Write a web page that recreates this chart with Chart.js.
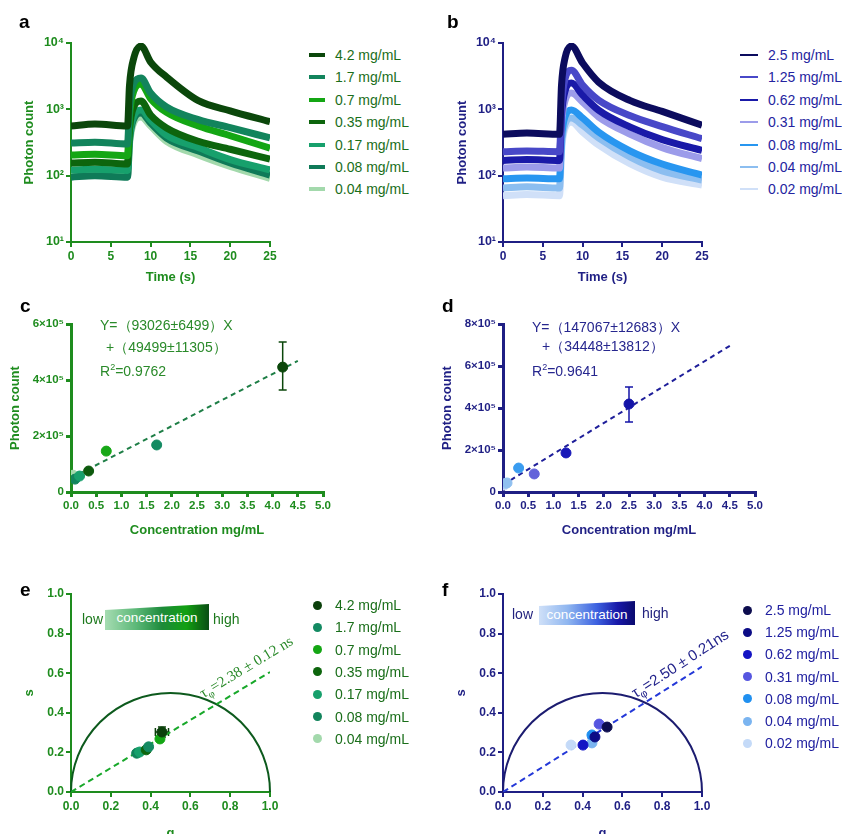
<!DOCTYPE html>
<html>
<head>
<meta charset="utf-8">
<script src="https://cdn.jsdelivr.net/npm/chart.js@4.4.1/dist/chart.umd.min.js"></script>
<style>
  body { margin: 0; background: #fff; width: 842px; height: 834px; overflow: hidden; position: relative;
         font-family: "Liberation Sans", Arial, sans-serif; }
  canvas { position: absolute; }
  .txt { position: absolute; white-space: nowrap; line-height: 16px; }
  .letter { position: absolute; font-weight: bold; font-size: 19px; color: #000; line-height: 20px; }
  .bar { position: absolute; color: #fff; font-size: 13.5px; text-align: center; }
  sub { font-size: 70%; }
</style>
</head>
<body>
<canvas id="chartA" width="300" height="270" style="left:0;top:20px"></canvas>
<canvas id="chartB" width="292" height="270" style="left:440px;top:20px"></canvas>
<canvas id="chartC" width="350" height="245" style="left:0;top:300px"></canvas>
<canvas id="chartD" width="350" height="245" style="left:430px;top:300px"></canvas>
<canvas id="chartE" width="300" height="275" style="left:0;top:575px"></canvas>
<canvas id="chartF" width="292" height="275" style="left:440px;top:575px"></canvas>

<div class="letter" style="left:19px;top:12px">a</div>
<div class="letter" style="left:447px;top:12px">b</div>
<div class="letter" style="left:20px;top:296px">c</div>
<div class="letter" style="left:442px;top:296px">d</div>
<div class="letter" style="left:20px;top:580px">e</div>
<div class="letter" style="left:442px;top:580px">f</div>

<div class="txt" style="left:100px;top:317px;font-size:14px;color:#2a8a2a">Y=（93026±6499）X</div>
<div class="txt" style="left:106px;top:339px;font-size:14px;color:#2a8a2a">+（49499±11305）</div>
<div class="txt" style="left:100px;top:359px;font-size:14px;color:#2a8a2a">R<sup style="font-size:9px">2</sup>=0.9762</div>
<div class="txt" style="left:532px;top:319px;font-size:14px;color:#26268e">Y=（147067±12683）X</div>
<div class="txt" style="left:542px;top:338px;font-size:14px;color:#26268e">+（34448±13812）</div>
<div class="txt" style="left:532px;top:359px;font-size:14px;color:#26268e">R<sup style="font-size:9px">2</sup>=0.9641</div>

<div class="txt" style="left:82px;top:611px;font-size:14px;color:#1e7a1e">low</div>
<div class="bar" style="left:105px;top:604px;width:104px;height:26px;line-height:28px;
  background:linear-gradient(90deg,#a6dcb2 0%,#5cb878 30%,#1d8a3a 55%,#12a012 78%,#0a4d14 100%);
  clip-path:polygon(0 6px,100% 0,100% 100%,0 100%)">concentration</div>
<div class="txt" style="left:213px;top:611px;font-size:14px;color:#1e7a1e">high</div>

<div class="txt" style="left:512px;top:606px;font-size:14px;color:#22227e">low</div>
<div class="bar" style="left:539px;top:601px;width:96px;height:24px;line-height:27px;
  background:linear-gradient(90deg,#cfe0f8 0%,#8fb6f0 30%,#3d62e0 60%,#1818a8 82%,#0a0a6e 100%);
  clip-path:polygon(0 5px,100% 0,100% 100%,0 100%)">concentration</div>
<div class="txt" style="left:642px;top:605px;font-size:14px;color:#22227e">high</div>

<div class="txt" style="left:208px;top:684px;font-size:15px;color:#2a8a2a;font-family:'Liberation Serif','Times New Roman',serif;
  transform-origin:0 100%;transform:rotate(-31deg)">τ<sub>φ</sub>=2.38 ± 0.12 ns</div>
<div class="txt" style="left:640px;top:684px;font-size:15px;color:#24248c;
  transform-origin:0 100%;transform:rotate(-33deg)">τ<sub>φ</sub>=2.50 ± 0.21ns</div>

<script>
// ---- a: photon count traces (green) ----
const timeA = [0, 3, 7.1, 7.35, 7.9, 8.8, 10, 12, 16, 20, 25];
const labelsA = ['4.2 mg/mL', '1.7 mg/mL', '0.7 mg/mL', '0.35 mg/mL', '0.17 mg/mL', '0.08 mg/mL', '0.04 mg/mL'];
const colorsA = ['#0b470b', '#12845c', '#14a614', '#0d650d', '#17a06c', '#0f7a58', '#a3d9ac'];
const a42  = [560, 600, 560, 2300, 6000, 9000, 5170, 3070, 1350, 950, 650];
const a17  = [310, 320, 300, 1100, 2500, 2970, 1760, 1085, 700, 530, 370];
const a07  = [205, 210, 200, 800, 1900, 2400, 1450, 900, 560, 400, 260];
const a035 = [155, 160, 150, 500, 1100, 1330, 820, 525, 330, 250, 178];
const a017 = [122, 125, 120, 380, 800, 975, 690, 410, 265, 175, 122];
const a008 = [95, 100, 95, 330, 720, 880, 620, 370, 235, 155, 102];
const a004 = [110, 105, 100, 300, 640, 766, 560, 330, 205, 138, 91];
const seriesA = [a42, a17, a07, a035, a017, a008, a004];

// ---- b: photon count traces (blue) ----
const timeB = [0, 3, 7.1, 7.35, 7.8, 8.6, 10, 12, 16, 20, 25];
const labelsB = ['2.5 mg/mL', '1.25 mg/mL', '0.62 mg/mL', '0.31 mg/mL', '0.08 mg/mL', '0.04 mg/mL', '0.02 mg/mL'];
const colorsB = ['#0c0c5e', '#4848c8', '#1a1aa8', '#9c9cea', '#2896f0', '#8cbef0', '#d0e0f8'];
const b25  = [420, 440, 420, 2300, 6000, 9000, 4990, 2580, 1350, 930, 575];
const b125 = [230, 235, 230, 1100, 2900, 3900, 2320, 1380, 800, 550, 360];
const b062 = [170, 175, 170, 800, 1900, 2490, 1640, 975, 540, 350, 240];
const b031 = [130, 135, 130, 600, 1350, 1760, 1290, 770, 420, 265, 180];
const b008 = [90, 92, 90, 360, 780, 975, 740, 455, 235, 150, 102];
const b004 = [65, 68, 65, 280, 600, 740, 575, 370, 190, 118, 86];
const b002 = [50, 52, 50, 230, 520, 640, 455, 290, 150, 95, 72];
const seriesB = [b25, b125, b062, b031, b008, b004, b002];

// ---- c / d: integrated counts vs concentration ----
const concC = [4.2, 1.7, 0.7, 0.35, 0.17, 0.08, 0.04];
const countC = [446000, 168000, 146000, 75000, 57000, 46000, 60000];
const colorsC = ['#0b470b', '#138a62', '#18a818', '#0d5a0d', '#17a06c', '#12845c', '#a3d9ac'];
const errC = [364000, 536000];
const fitC = [93026, 49499];   // slope, intercept

const concD = [2.5, 1.25, 0.62, 0.31, 0.08, 0.04, 0.02];
const countD = [419000, 186000, 86000, 114000, 43000, 40000, 33000];
const colorsD = ['#1414a8', '#1818b8', '#6262da', '#3a9cf0', '#90c0f0', '#a8ccf2', '#d0e0f8'];
const errD = [333000, 500000];
const fitD = [147067, 34448];

// ---- e / f: phasor plots ----
const gE = [0.457, 0.390, 0.447, 0.378, 0.345, 0.330, 0.336];
const sE = [0.303, 0.228, 0.268, 0.213, 0.202, 0.196, 0.198];
const colorsE = ['#0b400b', '#138a62', '#14a614', '#0d650d', '#17a06c', '#12845c', '#a3d9ac'];
const errE = [0.033, 0.025];   // g, s half widths for 4.2 mg/mL
const lineE = [1.0, 0.606];

const gF = [0.523, 0.462, 0.402, 0.483, 0.447, 0.447, 0.342];
const sF = [0.328, 0.278, 0.237, 0.343, 0.288, 0.248, 0.237];
const colorsF = ['#0c0c4e', '#0c0c86', '#1414c4', '#5656e0', '#2090f0', '#7ab4f0', '#c4daf8'];
const lineF = [1.0, 0.633];

const GREEN = '#1e8c1e';
const NAVY = '#1f1f84';
const SUP = ['⁰', '¹', '²', '³', '⁴', '⁵'];

Chart.defaults.font.family = "'Liberation Sans', Arial, sans-serif";

const errorBars = {
  id: 'errorBars',
  beforeDatasetsDraw(chart, args, opts) {
    if (!opts.bars) return;
    const { ctx, scales: { x, y } } = chart;
    ctx.save();
    opts.bars.forEach(b => {
      ctx.strokeStyle = b.color;
      ctx.lineWidth = 1.5;
      const px = x.getPixelForValue(b.x), py = y.getPixelForValue(b.y);
      ctx.beginPath();
      if (b.yLo !== undefined) {
        const t = y.getPixelForValue(b.yHi), bo = y.getPixelForValue(b.yLo);
        ctx.moveTo(px, t); ctx.lineTo(px, bo);
        ctx.moveTo(px - 4, t); ctx.lineTo(px + 4, t);
        ctx.moveTo(px - 4, bo); ctx.lineTo(px + 4, bo);
      }
      if (b.xLo !== undefined) {
        const l = x.getPixelForValue(b.xLo), r = x.getPixelForValue(b.xHi);
        ctx.moveTo(l, py); ctx.lineTo(r, py);
        ctx.moveTo(l, py - 4); ctx.lineTo(l, py + 4);
        ctx.moveTo(r, py - 4); ctx.lineTo(r, py + 4);
      }
      ctx.stroke();
    });
    ctx.restore();
  }
};

const semicircle = {
  id: 'semicircle',
  beforeDatasetsDraw(chart, args, opts) {
    if (!opts.color) return;
    const { ctx, scales: { x, y } } = chart;
    const cx = x.getPixelForValue(0.5), cy = y.getPixelForValue(0);
    const rx = x.getPixelForValue(1) - cx, ry = cy - y.getPixelForValue(0.5);
    ctx.save();
    ctx.strokeStyle = opts.color;
    ctx.lineWidth = 2;
    ctx.beginPath();
    ctx.ellipse(cx, cy, rx, ry, 0, Math.PI, 2 * Math.PI);
    ctx.stroke();
    ctx.restore();
  }
};
Chart.register(errorBars, semicircle);

function axis(color, o) {
  return {
    type: o.type || 'linear',
    min: o.min, max: o.max,
    afterFit: s => { if (o.w) s.width = o.w; if (o.h) s.height = o.h; },
    afterBuildTicks: o.fixedTicks ? s => { s.ticks = o.fixedTicks.map(v => ({ value: v })); } : undefined,
    ticks: { stepSize: o.step, color, padding: 2, autoSkip: false, maxRotation: 0,
             font: { weight: 'bold', size: o.fs || 12 }, callback: o.cb },
    grid: { drawOnChartArea: false, color, lineWidth: o.lw || 2, tickLength: 5 },
    border: { color, width: o.lw || 2 },
    title: { display: true, text: o.title, color, padding: 0, font: { weight: 'bold', size: 13 } }
  };
}

function baseOptions(padding, x, y, plugins) {
  return {
    responsive: false, animation: false,
    layout: { padding },
    plugins: Object.assign({ legend: { display: false }, tooltip: { enabled: false } }, plugins || {}),
    scales: { x, y }
  };
}

function traceChart(id, times, series, colors, labels, color, padding, yw) {
  new Chart(document.getElementById(id), {
    type: 'line',
    data: {
      datasets: series.map((vals, i) => ({
        label: labels[i],
        data: times.map((t, k) => ({ x: t, y: vals[k] })),
        borderColor: colors[i], borderWidth: 7, pointRadius: 0,
        cubicInterpolationMode: 'monotone'
      }))
    },
    options: baseOptions(padding,
      axis(color, { min: 0, max: 25, step: 5, h: 43, title: 'Time (s)' }),
      axis(color, { type: 'logarithmic', min: 10, max: 10000, w: yw, fs: 12.5, title: 'Photon count',
                    fixedTicks: [10, 100, 1000, 10000],
                    cb: v => '10' + SUP[Math.round(Math.log10(v))] }))
  });
}

function countChart(id, conc, counts, colors, err, fit, yMax, color, lineColor, padding) {
  const datasets = conc.map((c, i) => ({
    type: 'scatter', data: [{ x: c, y: counts[i] }],
    backgroundColor: colors[i], borderColor: colors[i], pointRadius: 5, order: 1
  }));
  datasets.push({
    type: 'line', data: [0, 4.5].map(x => ({ x, y: fit[0] * x + fit[1] })),
    borderColor: lineColor, borderWidth: 2, borderDash: [5, 4], pointRadius: 0, order: 2
  });
  new Chart(document.getElementById(id), {
    type: 'scatter',
    data: { datasets },
    options: baseOptions(padding,
      axis(color, { min: 0, max: 5, step: 0.5, h: 46, fs: 11.5, lw: 3, title: 'Concentration mg/mL',
                    cb: v => v.toFixed(1) }),
      axis(color, { min: 0, max: yMax, step: 200000, w: 63, fs: 11.5, lw: 3, title: 'Photon count',
                    cb: v => v === 0 ? '0' : (v / 100000) + '×10' + SUP[5] }),
      { errorBars: { bars: [{ x: conc[0], y: counts[0], yLo: err[0], yHi: err[1], color: colors[0] }] } })
  });
}

function phasorChart(id, g, s, colors, line, color, lineColor, circleColor, padding, bars) {
  const datasets = g.map((v, i) => ({
    type: 'scatter', data: [{ x: v, y: s[i] }],
    backgroundColor: colors[i], borderColor: colors[i], pointRadius: 5, order: 1
  }));
  datasets.push({
    type: 'line', data: [{ x: 0, y: 0 }, { x: line[0], y: line[1] }],
    borderColor: lineColor, borderWidth: 2, borderDash: [6, 4], pointRadius: 0, order: 2
  });
  new Chart(document.getElementById(id), {
    type: 'scatter',
    data: { datasets },
    options: baseOptions(padding,
      axis(color, { min: 0, max: 1, step: 0.2, h: 49, title: 'g', cb: v => v.toFixed(1) }),
      axis(color, { min: 0, max: 1, step: 0.2, w: 49, title: 's', cb: v => v.toFixed(1) }),
      { semicircle: { color: circleColor }, errorBars: { bars } })
  });
}

traceChart('chartA', timeA, seriesA, colorsA, labelsA, GREEN, { left: 22, top: 23, right: 30, bottom: 5 }, 49);
traceChart('chartB', timeB, seriesB, colorsB, labelsB, NAVY, { left: 15, top: 23, right: 30, bottom: 5 }, 48);
countChart('chartC', concC, countC, colorsC, errC, fitC, 600000, GREEN, '#1e7e46', { left: 8, top: 24, right: 27, bottom: 7 });
countChart('chartD', concD, countD, colorsD, errD, fitD, 800000, NAVY, '#1f1f9a', { left: 10, top: 24, right: 25, bottom: 7 });
phasorChart('chartE', gE, sE, colorsE, lineE, GREEN, '#18a82a', '#0d5a1d', { left: 22, top: 19, right: 30, bottom: 9 },
  [{ x: gE[0], y: sE[0], xLo: gE[0] - errE[0], xHi: gE[0] + errE[0], yLo: sE[0] - errE[1], yHi: sE[0] + errE[1], color: colorsE[0] }]);
phasorChart('chartF', gF, sF, colorsF, lineF, NAVY, '#2438d8', '#1c1c70', { left: 14, top: 19, right: 30, bottom: 9 }, []);

// ---- legends ----
function legend(left, cy0, step, labels, colors, textColor, kind) {
  labels.forEach((t, i) => {
    const cy = cy0 + step * i;
    const mark = document.createElement('div');
    mark.style.position = 'absolute';
    if (kind === 'circle') {
      mark.style.cssText += `left:${left - 5}px;top:${cy - 4.5}px;width:9px;height:9px;border-radius:50%;background:${colors[i]}`;
    } else {
      mark.style.cssText += `left:${left}px;top:${cy - kind / 2}px;width:${kind === 4 ? 16 : 18}px;height:${kind}px;background:${colors[i]}`;
    }
    document.body.appendChild(mark);
    const txt = document.createElement('div');
    txt.className = 'txt';
    txt.style.cssText += `left:${kind === 'circle' ? left + 17 : left + (kind === 4 ? 26 : 28)}px;top:${cy - 8}px;font-size:14px;color:${textColor}`;
    txt.textContent = t;
    document.body.appendChild(txt);
  });
}
legend(309, 55, 22.4, labelsA, colorsA, '#1a6e1a', 4);
legend(740, 55, 22.4, labelsB, colorsB, '#2424a0', 2);
legend(318, 605, 22.3, labelsA, colorsE, '#1a6e1a', 'circle');
legend(748, 610, 22.2, labelsB, colorsF, '#2020a0', 'circle');
</script>
</body>
</html>
